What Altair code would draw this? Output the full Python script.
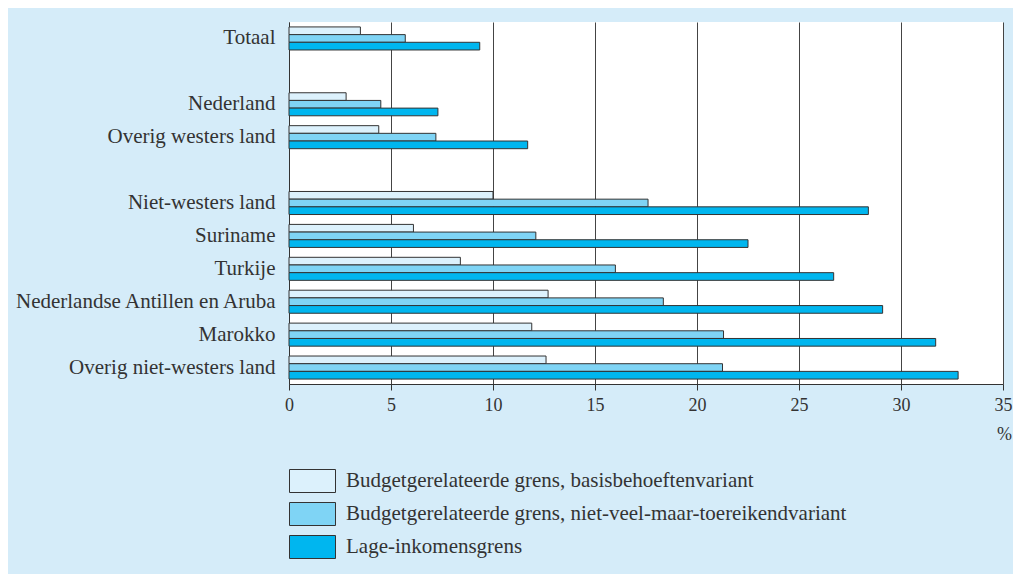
import altair as alt
import pandas as pd

categories = ["Totaal", "Nederland", "Overig westers land", "Niet-westers land",
              "Suriname", "Turkije", "Nederlandse Antillen en Aruba", "Marokko",
              "Overig niet-westers land"]
slots = ["Totaal", "_gap1", "Nederland", "Overig westers land", "_gap2",
         "Niet-westers land", "Suriname", "Turkije", "Nederlandse Antillen en Aruba",
         "Marokko", "Overig niet-westers land"]
series = ["Budgetgerelateerde grens, basisbehoeftenvariant",
          "Budgetgerelateerde grens, niet-veel-maar-toereikendvariant",
          "Lage-inkomensgrens"]
basis = [3.5, 2.8, 4.4, 10.0, 6.1, 8.4, 12.7, 11.9, 12.6]
nvmt = [5.7, 4.5, 7.2, 17.6, 12.1, 16.0, 18.35, 21.3, 21.25]
lage = [9.35, 7.3, 11.7, 28.4, 22.5, 26.7, 29.1, 31.7, 32.8]
colors = ["#dcf1fc", "#7fd4f5", "#00b6ef"]
x_ticks = [0, 5, 10, 15, 20, 25, 30, 35]

rows = []
for s, vals in zip(series, [basis, nvmt, lage]):
    for c, v in zip(categories, vals):
        rows.append({"cat": c, "serie": s, "val": v})
df = pd.DataFrame(rows)

FONT = "Liberation Serif"

chart = alt.Chart(df).mark_bar(stroke="#333333", strokeWidth=1).encode(
    x=alt.X("val:Q",
            scale=alt.Scale(domain=[0, 35], nice=False, zero=True),
            axis=alt.Axis(values=x_ticks, title="%", titleX=715, titleY=50,
                          titleAlign="center", titleBaseline="middle",
                          titleFont=FONT, titleFontSize=18, titleFontWeight="normal",
                          titleColor="#333333",
                          labelFont=FONT, labelFontSize=18, labelColor="#333333",
                          labelPadding=6, tickSize=6, tickColor="#333333",
                          domainColor="#333333", grid=True, gridColor="#444444",
                          gridWidth=1, labelFlush=False)),
    y=alt.Y("cat:N",
            scale=alt.Scale(domain=slots, paddingInner=0.3, paddingOuter=0.15),
            axis=alt.Axis(title=None, labelExpr="indexof(datum.value, '_gap') == 0 ? '' : datum.value",
                          labelFont=FONT, labelFontSize=21, labelColor="#333333",
                          ticks=False, labelPadding=14, domainColor="#333333",
                          grid=False, labelLimit=0)),
    yOffset=alt.YOffset("serie:N",
                        scale=alt.Scale(domain=series, paddingInner=0, paddingOuter=0)),
    color=alt.Color("serie:N",
                    scale=alt.Scale(domain=series, range=colors),
                    legend=alt.Legend(title=None, orient="none", legendX=0, legendY=447,
                                      symbolType="M-1,-1H3V1H-1Z", symbolSize=529,
                                      symbolStrokeColor="#333333", symbolStrokeWidth=1,
                                      symbolOpacity=1,
                                      labelFont=FONT, labelFontSize=21, labelColor="#333333",
                                      labelOffset=33, rowPadding=5, labelLimit=0,
                                      padding=0)),
).properties(
    width=714, height=362,
    background="#d5ecf9",
    padding={"left": 281, "top": 14, "right": 10, "bottom": 190},
    autosize=alt.AutoSizeParams(type="none"),
).configure_view(fill="white", stroke=None)

chart.save("out.html", embed_options={"renderer": "svg", "actions": False})
